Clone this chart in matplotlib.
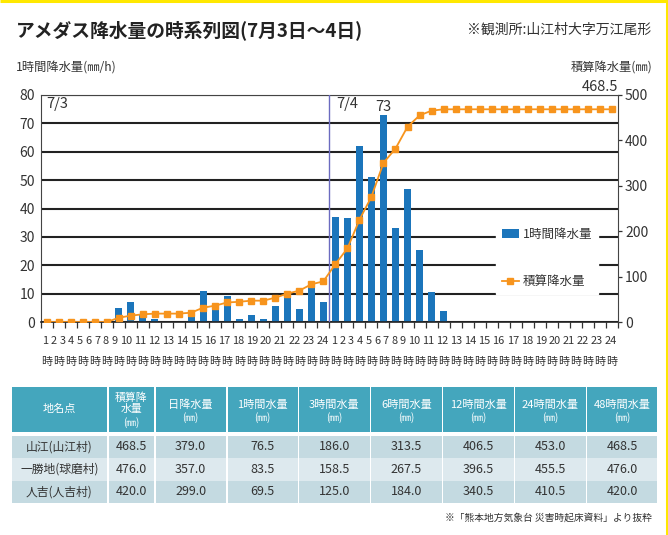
import numpy as np
import matplotlib
matplotlib.use("Agg")
import matplotlib.pyplot as plt
from matplotlib.patches import Rectangle, Patch
from matplotlib.lines import Line2D
import matplotlib.transforms as mtransforms

plt.rcParams['font.family'] = ['Noto Sans CJK JP', 'DejaVu Sans']

# ---------------- data ----------------
hours = list(range(1, 25))
hourly_0703 = [0, 0, 0, 0, 0, 0, 5.0, 7.0, 2.5, 1.0, 0, 0,
               3.0, 11.0, 4.5, 9.0, 1.0, 2.5, 1.0, 5.5, 10.0, 4.5, 14.0, 7.0]
hourly_0704 = [37.0, 36.5, 62.0, 51.0, 73.0, 33.0, 47.0, 25.5, 10.5, 4.0, 0, 0,
               0, 0, 0, 0, 0, 0, 0, 0, 0, 0, 0, 0]
cum_0703 = [0, 0, 0, 0, 0, 0, 9.5, 14.0, 17.0, 18.5, 18.5, 18.5,
            20.5, 31.5, 36.0, 43.0, 44.5, 47.0, 47.0, 53.5, 62.5, 69.0, 83.0, 89.5]
cum_0704 = [127.5, 162.0, 225.0, 276.0, 350.5, 382.0, 430.0, 455.0, 465.5, 468.5, 468.5, 468.5,
            468.5, 468.5, 468.5, 468.5, 468.5, 468.5, 468.5, 468.5, 468.5, 468.5, 468.5, 468.5]
day_labels = ['7/3', '7/4']

series_hourly_label = '1時間降水量'
series_cum_label = '積算降水量'

table_header_main = ['地名点', '積算降\n水量', '日降水量', '1時間水量', '3時間水量',
                     '6時間水量', '12時間水量', '24時間水量', '48時間水量']
stations = ['山江(山江村)', '一勝地(球磨村)', '人吉(人吉村)']
total_rain = [468.5, 476.0, 420.0]
daily_rain = [379.0, 357.0, 299.0]
rain_1h = [76.5, 83.5, 69.5]
rain_3h = [186.0, 158.5, 125.0]
rain_6h = [313.5, 267.5, 184.0]
rain_12h = [406.5, 396.5, 340.5]
rain_24h = [453.0, 455.5, 410.5]
rain_48h = [468.5, 476.0, 420.0]

# ---------------- style ----------------
W, H = 668, 535
BLUE = '#1b75bb'
ORANGE = '#f7941d'
TXT = '#333333'

fig = plt.figure(figsize=(W / 100, H / 100), dpi=100)
fig.patch.set_facecolor('white')

# overlay axes in pixel coords (for titles, table, border)
oax = fig.add_axes([0, 0, 1, 1])
oax.set_xlim(0, W)
oax.set_ylim(H, 0)
oax.axis('off')

# yellow border (top and right)
oax.plot([0, W], [0.8, 0.8], color='#ffe800', lw=2.2, solid_capstyle='butt')
oax.plot([W - 1.2, W - 1.2], [0, H], color='#ffe800', lw=2.2, solid_capstyle='butt')

oax.text(16, 30, 'アメダス降水量の時系列図(7月3日〜4日)', fontsize=13.5, fontweight='bold',
         color='#222222', ha='left', va='center')
oax.text(651, 30, '※観測所:山江村大字万江尾形', fontsize=10, color=TXT, ha='right', va='center')
oax.text(16, 68, '1時間降水量(㎜/h)', fontsize=8.8, color=TXT, ha='left', va='center')
oax.text(652, 68, '積算降水量(㎜)', fontsize=8.8, color=TXT, ha='right', va='center')

# ---------------- chart ----------------
hourly = hourly_0703 + hourly_0704
cum = cum_0703 + cum_0704
n = len(hourly)
x = np.arange(n) + 0.5

ax = fig.add_axes([40.7 / W, 1 - 322 / H, (618 - 40.7) / W, 227 / H])
ax.set_facecolor('none')
ax.bar(x, hourly, width=0.58, color=BLUE, zorder=2)
ax.set_xlim(0, n)
ax.set_ylim(0, 80)
ax.set_yticks(np.arange(0, 81, 10))
ax.yaxis.grid(True, color='#222222', lw=1.5)
ax.set_axisbelow(True)
ax.tick_params(axis='y', length=0, labelsize=10, pad=4, labelcolor=TXT)

# hour-number labels are laid out as a justified string per day (narrow 1-digit, wide 2-digit)
widths = np.array([1.0 if h < 10 else 1.62 for h in hours])
widths = widths * len(hours) / widths.sum()
centers_day = np.cumsum(widths) - widths / 2
num_pos = np.concatenate([centers_day + d * len(hours) for d in range(len(day_labels))])
ax.set_xticks(num_pos)
ax.set_xticklabels([str(h) for h in hours + hours])
ax.set_xticks(np.arange(0, n + 1), minor=True)
ax.tick_params(axis='x', which='major', length=0, labelsize=7.9, pad=10, labelcolor=TXT)
ax.tick_params(axis='x', which='minor', length=4, width=0.9, direction='out', color='#333333')

# "時" under every hour slot
trans = mtransforms.blended_transform_factory(ax.transData, ax.transAxes)
for xi in x:
    ax.text(xi, -40.5 / 227, '時', transform=trans, fontsize=7.9, color=TXT,
            ha='center', va='center', clip_on=False)

for s in ['left', 'top']:
    ax.spines[s].set_color('#444444')
    ax.spines[s].set_linewidth(0.8)
ax.spines['bottom'].set_color('#222222')
ax.spines['bottom'].set_linewidth(1.2)
ax.spines['right'].set_visible(False)

# day boundary
ax.axvline(len(hourly_0703), color='#6b6bc0', lw=1.0, zorder=4)
ax.text(0.5, 76.7, day_labels[0], fontsize=10.5, color=TXT, ha='left', va='center')
ax.text(len(hourly_0703) + 0.6, 76.7, day_labels[1], fontsize=10.5, color=TXT, ha='left', va='center')

peak_i = int(np.argmax(hourly))
ax.annotate(f'{hourly[peak_i]:g}', xy=(x[peak_i], hourly[peak_i]), xytext=(0, 0.5),
            textcoords='offset points', ha='center', va='bottom', fontsize=10.5, color=TXT)

ax2 = ax.twinx()
ax2.plot(x, cum, color=ORANGE, lw=1.3, marker='s', ms=5, zorder=3)
ax2.set_ylim(0, 500)
ax2.set_yticks(np.arange(0, 501, 100))
ax2.tick_params(axis='y', direction='out', length=3, width=0.9, labelsize=10, pad=2,
                labelcolor=TXT, color='#333333')
for s in ['left', 'top', 'bottom']:
    ax2.spines[s].set_visible(False)
ax2.spines['right'].set_color('#444444')
ax2.spines['right'].set_linewidth(0.8)
ax2.text(1.0, 1.005, f'{cum[-1]:g}', transform=ax2.transAxes, ha='right', va='bottom',
         fontsize=10.5, color=TXT)

handles = [Patch(facecolor=BLUE, edgecolor='none'),
           Line2D([], [], color=ORANGE, lw=1.3, marker='s', ms=5)]
leg = ax2.legend(handles, [series_hourly_label, series_cum_label], loc='center',
                 bbox_to_anchor=(547 / W, 1 - 258 / H), bbox_transform=fig.transFigure,
                 frameon=True, facecolor='white', edgecolor='white', framealpha=1,
                 fancybox=False, fontsize=9, labelspacing=2.75, handlelength=1.4,
                 handletextpad=0.3, borderpad=0.45, borderaxespad=0)
for t in leg.get_texts():
    t.set_color(TXT)

# ---------------- table ----------------
col_edges = [11, 107.7, 154.7, 226.7, 298.3, 370.5, 442.5, 514.5, 586.5, 657.5]
header_top, header_bot = 387, 432
row_edges = [436, 458, 480.5, 503]
row_colors = ['#c4dae1', '#dde9ee', '#c4dae1']
HEAD = '#44a6bd'
g = 0.8

for c in range(len(col_edges) - 1):
    x0, x1 = col_edges[c], col_edges[c + 1]
    oax.add_patch(Rectangle((x0 + g, header_top), x1 - x0 - 2 * g, header_bot - header_top,
                            facecolor=HEAD, edgecolor='none'))
    cx = (x0 + x1) / 2
    if c == 0:
        oax.text(cx, 409, table_header_main[c], fontsize=8, color='white', ha='center', va='center')
    elif c == 1:
        oax.text(cx, 403, table_header_main[c], fontsize=7.8, color='white', ha='center',
                 va='center', linespacing=1.2)
        oax.text(cx, 423, '(㎜)', fontsize=7, color='white', ha='center', va='center')
    else:
        oax.text(cx, 404.5, table_header_main[c], fontsize=8, color='white', ha='center', va='center')
        oax.text(cx, 417.5, '(㎜)', fontsize=7, color='white', ha='center', va='center')

columns = [total_rain, daily_rain, rain_1h, rain_3h, rain_6h, rain_12h, rain_24h, rain_48h]
for r in range(len(stations)):
    y0, y1 = row_edges[r], row_edges[r + 1]
    cy = (y0 + y1) / 2
    for c in range(len(col_edges) - 1):
        x0, x1 = col_edges[c], col_edges[c + 1]
        oax.add_patch(Rectangle((x0 + g, y0), x1 - x0 - 2 * g, y1 - y0,
                                facecolor=row_colors[r], edgecolor='none'))
        cx = (x0 + x1) / 2
        if c == 0:
            oax.text(cx, cy, stations[r], fontsize=8.5, color=TXT, ha='center', va='center')
        else:
            oax.text(cx, cy, f'{columns[c - 1][r]:.1f}', fontsize=9, color=TXT,
                     ha='center', va='center')

oax.text(652, 518, '※「熊本地方気象台 災害時起床資料」より抜粋', fontsize=7, color=TXT,
         ha='right', va='center')

fig.savefig('out.png', dpi=100, facecolor='white')
